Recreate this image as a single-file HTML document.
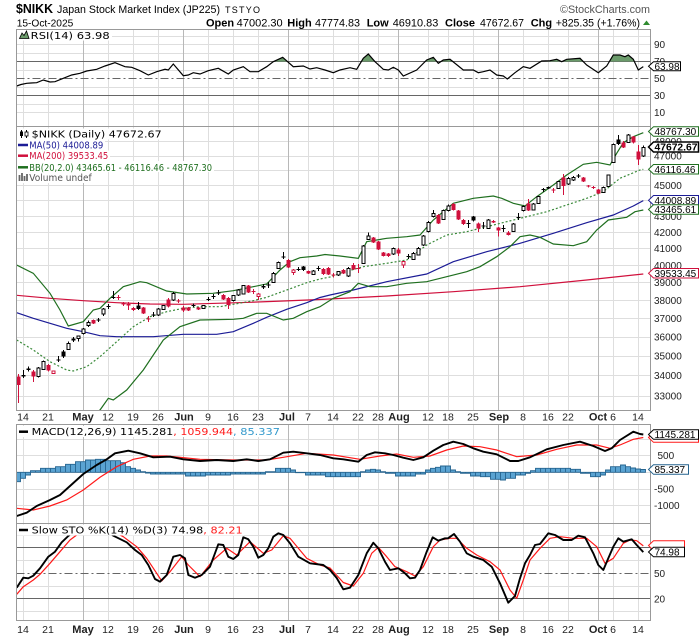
<!DOCTYPE html>
<html><head><meta charset="utf-8">
<style>html,body{margin:0;padding:0;background:#fff;width:700px;height:639px;overflow:hidden}svg{display:block}</style>
</head><body>
<svg width="700" height="639" viewBox="0 0 700 639" xmlns="http://www.w3.org/2000/svg" font-family="Liberation Sans, Arial, sans-serif">
<defs>
<clipPath id="cMain"><rect x="16.5" y="126.5" width="634" height="284"/></clipPath>
<clipPath id="cRsi"><rect x="16.5" y="29.5" width="634" height="97"/></clipPath>
<clipPath id="cRsiUp"><rect x="16.5" y="29.5" width="634" height="32"/></clipPath>
<clipPath id="cMacd"><rect x="16.5" y="424.5" width="634" height="99"/></clipPath>
<clipPath id="cSto"><rect x="16.5" y="523.5" width="634" height="97"/></clipPath>
</defs>
<rect width="700" height="639" fill="#fff"/>

<!-- Header -->
<text x="16" y="13" font-size="12.5" font-weight="bold" textLength="37" lengthAdjust="spacingAndGlyphs">$NIKK</text>
<text x="57" y="13" font-size="11" textLength="163" lengthAdjust="spacingAndGlyphs">Japan Stock Market Index (JP225)</text>
<text x="225" y="13" font-size="9" textLength="35" lengthAdjust="spacing">TSTYO</text>
<text x="560" y="13" font-size="11" fill="#555" textLength="90" lengthAdjust="spacingAndGlyphs">©StockCharts.com</text>
<text x="16.7" y="26.7" font-size="10.5" textLength="56.6" lengthAdjust="spacingAndGlyphs">15-Oct-2025</text>
<g font-size="11">
<text x="206" y="26.7" font-weight="bold">Open</text>
<text x="236.7" y="26.7" textLength="46" lengthAdjust="spacingAndGlyphs">47002.30</text>
<text x="287.3" y="26.7" font-weight="bold">High</text>
<text x="315" y="26.7" textLength="45" lengthAdjust="spacingAndGlyphs">47774.83</text>
<text x="366.7" y="26.7" font-weight="bold">Low</text>
<text x="392.7" y="26.7" textLength="45.6" lengthAdjust="spacingAndGlyphs">46910.83</text>
<text x="445" y="26.7" font-weight="bold">Close</text>
<text x="480" y="26.7" textLength="44" lengthAdjust="spacingAndGlyphs">47672.67</text>
<text x="530.7" y="26.7" font-weight="bold">Chg</text>
<text x="555.7" y="26.7" textLength="84.3" lengthAdjust="spacingAndGlyphs">+825.35 (+1.76%)</text>
</g>
<polygon points="643,25 646.5,20.5 650,25" fill="#2e8b2e"/>

<!-- Gridlines -->
<g fill="none" stroke-width="1">
<path stroke="#dedede" d="M23.5 29.5V410.5M48.5 29.5V410.5M108.5 29.5V410.5M133.5 29.5V410.5M158.5 29.5V410.5M208.5 29.5V410.5M233.5 29.5V410.5M258.5 29.5V410.5M308.5 29.5V410.5M333.5 29.5V410.5M358.5 29.5V410.5M378.5 29.5V410.5M428.5 29.5V410.5M448.5 29.5V410.5M473.5 29.5V410.5M523.5 29.5V410.5M548.5 29.5V410.5M568.5 29.5V410.5M613.5 29.5V410.5M638.5 29.5V410.5
M23.5 424.5V620.5M48.5 424.5V620.5M108.5 424.5V620.5M133.5 424.5V620.5M158.5 424.5V620.5M208.5 424.5V620.5M233.5 424.5V620.5M258.5 424.5V620.5M308.5 424.5V620.5M333.5 424.5V620.5M358.5 424.5V620.5M378.5 424.5V620.5M428.5 424.5V620.5M448.5 424.5V620.5M473.5 424.5V620.5M523.5 424.5V620.5M548.5 424.5V620.5M568.5 424.5V620.5M613.5 424.5V620.5M638.5 424.5V620.5
M16.5 36.5H650.5M16.5 44.5H650.5M16.5 53.5H650.5M16.5 70.5H650.5M16.5 87.5H650.5M16.5 104.5H650.5M16.5 112.5H650.5
M16.5 141.5H650.5M16.5 156.5H650.5M16.5 170.5H650.5M16.5 185.5H650.5M16.5 200.5H650.5M16.5 216.5H650.5M16.5 232.5H650.5M16.5 248.5H650.5M16.5 265.5H650.5M16.5 282.5H650.5M16.5 300.5H650.5M16.5 318.5H650.5M16.5 337.5H650.5M16.5 356.5H650.5M16.5 375.5H650.5M16.5 396.5H650.5
M16.5 439.5H650.5M16.5 455.5H650.5M16.5 472.5H650.5M16.5 489.5H650.5M16.5 505.5H650.5
M16.5 535.5H650.5M16.5 560.5H650.5M16.5 586.5H650.5M16.5 611.5H650.5"/>
<path stroke="#b8b8b8" d="M83.5 29.5V410.5M183.5 29.5V410.5M288.5 29.5V410.5M398.5 29.5V410.5M498.5 29.5V410.5M598.5 29.5V410.5M83.5 424.5V620.5M183.5 424.5V620.5M288.5 424.5V620.5M398.5 424.5V620.5M498.5 424.5V620.5M598.5 424.5V620.5"/>
<path stroke="#666" d="M16.5 61.5H650.5M16.5 95.5H650.5M16.5 547.5H650.5M16.5 598.5H650.5"/>
<path stroke="#666" stroke-dasharray="8,3,2,3" d="M16.5 78.5H650.5M16.5 573.5H650.5"/>
</g>

<!-- RSI -->
<g clip-path="url(#cRsi)">
<polygon clip-path="url(#cRsiUp)" fill="#6b9b6b" points="16.7,86 21,84.5 26.7,83.3 31,83 36.7,82.7 43.3,80 50,82 55,81.7 63.3,78.3 71.7,75 80,73.3 86.7,71 96.7,69.3 105,66 115,62.7 125,66.7 131.7,67.3 140,70.7 148.3,75 156.7,71.7 165,69.3 168.3,70 173.3,64 183.3,75.7 188.3,75 193.3,72.7 200,74 208.3,70.7 218.3,68.3 228.3,74 233.3,70 243.3,66.7 250,71.7 258.3,71.7 266.7,66.7 273.3,61.7 282.7,57.3 293.3,66.7 303.3,66 310,69 316.7,67.7 325,70 333.3,72.7 340,70 350,67.7 356.7,69.3 363.3,58.3 368.3,54 375,61.7 383.3,69.3 388.3,70 393.3,67.3 398.3,70 403.3,76 416.7,70 426.7,60 433.3,57.3 438.3,63.3 443.3,60 450,59.3 463.3,70 473.3,70 478.3,72.7 483.3,71.7 490,70 496.7,75 503.3,76 507.3,79 515,72.7 523.3,66.7 530,68.3 541.7,61 550,60.7 556.7,59.3 561.7,61.7 566.7,59.3 580,58.3 586.7,65 598.3,72.7 606.7,66 613.3,55 620,55 625,56.7 628.3,55 633.3,59.3 638.3,70 643.3,66.6 643.3,61.5 16.7,61.5"/>
<polyline fill="none" stroke="#000" stroke-width="1.2" points="16.7,86 21,84.5 26.7,83.3 31,83 36.7,82.7 43.3,80 50,82 55,81.7 63.3,78.3 71.7,75 80,73.3 86.7,71 96.7,69.3 105,66 115,62.7 125,66.7 131.7,67.3 140,70.7 148.3,75 156.7,71.7 165,69.3 168.3,70 173.3,64 183.3,75.7 188.3,75 193.3,72.7 200,74 208.3,70.7 218.3,68.3 228.3,74 233.3,70 243.3,66.7 250,71.7 258.3,71.7 266.7,66.7 273.3,61.7 282.7,57.3 293.3,66.7 303.3,66 310,69 316.7,67.7 325,70 333.3,72.7 340,70 350,67.7 356.7,69.3 363.3,58.3 368.3,54 375,61.7 383.3,69.3 388.3,70 393.3,67.3 398.3,70 403.3,76 416.7,70 426.7,60 433.3,57.3 438.3,63.3 443.3,60 450,59.3 463.3,70 473.3,70 478.3,72.7 483.3,71.7 490,70 496.7,75 503.3,76 507.3,79 515,72.7 523.3,66.7 530,68.3 541.7,61 550,60.7 556.7,59.3 561.7,61.7 566.7,59.3 580,58.3 586.7,65 598.3,72.7 606.7,66 613.3,55 620,55 625,56.7 628.3,55 633.3,59.3 638.3,70 643.3,66.6"/>
</g>

<!-- Main price lines -->
<g clip-path="url(#cMain)" fill="none" stroke-width="1.2">
<polyline stroke="#d0103c" points="16.7,295.3 50,298.3 83.3,300.7 116.7,302.7 150,304 183.3,304.3 216.7,303.3 250,302.3 283.3,301 320,299.5 386.7,296 453.3,291.7 520,286.7 586.7,280 643.3,274"/>
<polyline stroke="#1c1c96" points="16.7,312.7 33.3,318.3 50,323.3 66.7,328.3 83.3,331.7 100,335.7 116.7,336.7 153.3,336.7 183.3,334.3 216.7,334.3 233.3,331.7 253.3,323.3 266.7,317.3 286.7,309.3 306.7,302.7 320,297.5 330,295 353.3,290 386.7,281.7 426.7,274 453.3,261.7 486.7,251.7 520,243.3 553.3,233.3 586.7,222.7 613.3,215 633.3,206 643.3,200.6"/>
<polyline stroke="#1f6f1f" points="16.7,265 33.3,273.3 50,293.3 60,310 68.3,326 83.3,321.7 93.3,310 100,308.3 110,298.3 123.3,286.7 140,281.7 146.7,282.7 166.7,291 186.7,294 213,293.3 233.3,290.7 253.3,286.7 266.7,284 280,270 290,261.7 300,257.7 316.7,256 325,254.5 340,256 358.3,258.3 366.7,241.7 386.7,238.3 406.7,236.7 420,235 433.3,220 453.3,203.3 473.3,198.3 493.3,196 501.7,198.3 513.3,203.3 525,206 536.7,196.7 553.3,185 566.7,175 583.3,164.3 596.7,162.3 610,165 616.7,153.3 623.3,142.7 633.3,136.7 643.3,132.7"/>
<polyline stroke="#3a8a3a" stroke-dasharray="2,2" points="16.7,340 33.3,350 50,361.7 66.7,370 73.3,371 86.7,366.7 100,356.7 116.7,341.7 133.3,326.7 150,316.7 166.7,311.7 183.3,308.3 200,306.7 220,306.7 233.3,304.3 253.3,300.7 266.7,297.3 286.7,290 306.7,282.7 320,279 330,277 340,273.3 363.3,266.7 386.7,263.3 406.7,260 426.7,245 446.7,235 466.7,231.7 486.7,226.7 506.7,221.7 526.7,216.7 546.7,211.7 566.7,205 586.7,198.3 603.3,191.7 620,178.3 640,170 643.3,169.3"/>
<polyline stroke="#1f6f1f" points="16.7,425 50,440 68,428 90,416 100,410 108.3,398.3 113.3,400 126.7,390 143.3,370 163.3,340 180,326.7 200,320 233.3,319.3 243.3,318.3 256.7,313.3 266.7,313.3 283.3,320 293.3,318.3 306.7,311.7 320,306.7 333.3,298.3 350,291.7 358.3,283.3 370,286.7 386.7,286.7 406.7,283.3 426.7,281.7 446.7,276.7 466.7,271.7 480,266.7 496.7,256.7 510,246.7 520,236.7 530,235 540,237.3 553.3,244 573.3,245.7 586.7,241.7 596.7,230 608.3,220 626.7,217.3 635,211.7 643.3,210"/>
</g>

<!-- Candles -->
<g clip-path="url(#cMain)" shape-rendering="crispEdges">
<path fill="none" stroke="#d0103c" d="M18.5 374V403M33.5 370V382M48.5 364V371.5M93.5 319.5V324M118.5 295V300M123.5 302V306M128.5 302V310M133.5 307V311M143.5 307V314M148.5 316V322M168.5 298V307.5M178.5 299V303M183.5 306V312M188.5 307V311M198.5 307V310M223.5 294V300M228.5 297V309M248.5 285V293M253.5 289V294M288.5 259V268M308.5 270.5V274M323.5 268V275M328.5 267V275M333.5 273V277.5M343.5 269V274M353.5 263V270M358.5 264V273M373.5 237V243M378.5 241V250M383.5 252V256.5M388.5 253V257M398.5 248V256M438.5 214V224M453.5 203V210.5M458.5 210V220M463.5 219V225M478.5 222.5V232M493.5 220V223M498.5 227V236.5M508.5 231V235.5M528.5 199V211M553.5 188V193M563.5 174V195M583.5 177V182M588.5 185V187.5M593.5 186V189M598.5 189V194M623.5 141V148M633.5 136V143.5M638.5 145V165M53.5 370.5V374M258.5 293V300M293.5 269V275M403.5 261V268"/>
<path fill="#d0103c" d="M16.5 376.7h4v8.3h-4zM31.5 371.7h4v5h-4zM46.5 365h4v5.7h-4zM91.5 320h4v3.3h-4zM116.5 297h4v1.2h-4zM121.5 303.5h4v1.2h-4zM126.5 304h4v1.5h-4zM131.5 308h4v2h-4zM141.5 307.7h4v5.6h-4zM146.5 318.5h4v1.2h-4zM166.5 299.3h4v7.4h-4zM176.5 300.5h4v1.2h-4zM181.5 307.3h4v3.4h-4zM186.5 307.3h4v3.4h-4zM196.5 307.7h4v1.6h-4zM221.5 295h4v4.3h-4zM226.5 298h4v7h-4zM246.5 285.7h4v6.6h-4zM251.5 291h4v1.2h-4zM286.5 260h4v7.3h-4zM306.5 271h4v2.3h-4zM321.5 269h4v5h-4zM326.5 268h4v6.5h-4zM331.5 274.5h4v1.2h-4zM341.5 270h4v3.3h-4zM351.5 265h4v4.3h-4zM356.5 267.8h4v1.2h-4zM371.5 237.3h4v5.4h-4zM376.5 241.7h4v7.6h-4zM381.5 252.7h4v3.3h-4zM386.5 253.3h4v2.7h-4zM396.5 249.3h4v4h-4zM436.5 215h4v8.3h-4zM451.5 204h4v6h-4zM456.5 210.7h4v8.6h-4zM461.5 220h4v4h-4zM476.5 223.3h4v5h-4zM491.5 221.2h4v1.2h-4zM496.5 227.3h4v3.4h-4zM506.5 232.3h4v2.7h-4zM526.5 203.3h4v7.4h-4zM551.5 189.5h4v1.2h-4zM561.5 177.3h4v8.7h-4zM581.5 177.3h4v4.4h-4zM586.5 185.5h4v1.2h-4zM591.5 187h4v1.2h-4zM596.5 189.3h4v4h-4zM621.5 142.7h4v4.6h-4zM631.5 136.7h4v6h-4zM636.5 151.7h4v7.6h-4z"/>
<path fill="#fff" stroke="#d0103c" d="M52 371h3v2.3h-3zM257 294h3v2.7h-3zM292 270h3v2.7h-3zM402 261.7h3v3.3h-3z"/>
<path fill="none" stroke="#000" d="M23.5 370V378M28.5 366.7V371.7M58.5 356V362M63.5 350V358M73.5 337V342M98.5 318V322M108.5 304V309M113.5 291V299M138.5 302V310M153.5 312V317M193.5 303.5V307M208.5 297V301M213.5 294V299M218.5 290V295M263.5 284V289M268.5 282V288M283.5 252V259M298.5 267V271M303.5 266V271M318.5 266V271M408.5 254V259M468.5 220V228M473.5 216V221.5M483.5 222V229M503.5 225V232M518.5 213V220M543.5 188V192M548.5 186.5V189M578.5 174V178M618.5 135V145
M38.5 367V377.5M43.5 360.5V370M68.5 341.7V350M78.5 335.5V341.7M83.5 328V334.5M88.5 320.5V327M103.5 308V316M158.5 308V316M163.5 305V310M173.5 292V301M203.5 305V309M233.5 295V301.5M238.5 289V296M243.5 285V294.5M273.5 272V283M278.5 261.5V269M313.5 270V275M338.5 271V276M348.5 267V277M363.5 245V264M368.5 232.7V240M393.5 247.5V255M413.5 252V260M418.5 247V255.5M423.5 235V246M428.5 221V232.5M433.5 210V217.5M443.5 209.5V220M448.5 204.5V211.5M488.5 219V229M513.5 223V232M523.5 205.5V211.5M533.5 203V210.5M538.5 196V204M558.5 181V189M568.5 177V185M573.5 176V181M603.5 186.5V193M608.5 174.5V187M613.5 143.5V163M628.5 134V143M643.5 145.7V157"/>
<path fill="#000" d="M21.5 375h4v1.5h-4zM26.5 368.5h4v1.5h-4zM56.5 359.5h4v1.2h-4zM61.5 351.7h4v5h-4zM71.5 338.3h4v2.2h-4zM96.5 319.5h4v1.2h-4zM106.5 306h4v1.2h-4zM111.5 297h4v1.2h-4zM136.5 305.7h4v3.3h-4zM151.5 314.5h4v1.2h-4zM191.5 305h4v1.2h-4zM206.5 299h4v1.2h-4zM211.5 296h4v1.2h-4zM216.5 292.5h4v1.2h-4zM261.5 286.2h4v1.2h-4zM266.5 284.5h4v1.2h-4zM281.5 256.5h4v1.2h-4zM296.5 269h4v1.2h-4zM301.5 266.7h4v3.3h-4zM316.5 268h4v1.2h-4zM406.5 256h4v1.2h-4zM466.5 222.8h4v1.2h-4zM471.5 216.7h4v4h-4zM481.5 225.5h4v1.2h-4zM501.5 227.8h4v1.2h-4zM516.5 216.8h4v1.2h-4zM541.5 189h4v1.2h-4zM546.5 187.2h4v1.2h-4zM576.5 175.5h4v1.2h-4zM616.5 139.3h4v4.7h-4z"/>
<path fill="#fff" stroke="#000" d="M37 368h3v8.7h-3zM42 361.7h3v7.6h-3zM67 343.3h3v6h-3zM77 336h3v2.3h-3zM82 329h3v4.3h-3zM87 322.3h3v3.4h-3zM102 309h3v5h-3zM157 309h3v6h-3zM162 305.7h3v3.6h-3zM172 293.3h3v6.7h-3zM202 305.7h3v2.6h-3zM232 295.7h3v5h-3zM237 290h3v5h-3zM242 285.7h3v8.3h-3zM272 273.3h3v9h-3zM277 262.7h3v5.6h-3zM312 271h3v3.3h-3zM337 271.7h3v3.3h-3zM347 268.3h3v7.7h-3zM362 246h3v17.3h-3zM367 236h3v3.3h-3zM392 248.3h3v5.7h-3zM412 253.3h3v6h-3zM417 248.3h3v6.7h-3zM422 236h3v9h-3zM427 222.7h3v9h-3zM432 213.3h3v3.4h-3zM442 210.7h3v8.6h-3zM447 206h3v4.7h-3zM487 220h3v8.3h-3zM512 224h3v7.7h-3zM522 206.7h3v4h-3zM532 204h3v6h-3zM537 196.7h3v6.6h-3zM557 181.7h3v6.6h-3zM567 178.3h3v5.7h-3zM572 177.3h3v2.7h-3zM602 187.3h3v5h-3zM607 175h3v11.7h-3zM612 144.3h3v18.4h-3zM627 135h3v7.7h-3zM642 147.3h3v8.7h-3z"/>
</g>

<!-- MACD -->
<g clip-path="url(#cMacd)">
<path fill="#5aa3d2" stroke="#26648f" stroke-width="0.9" d="M15.5 472.3V481.7h5V472.3zM20.5 472.3V478.3h5V472.3zM25.5 472.3V475h5V472.3zM30.5 472.3V470.7h5V472.3zM35.5 472.3V470.7h5V472.3zM40.5 472.3V468.3h5V472.3zM45.5 472.3V468.3h5V472.3zM50.5 472.3V468.3h5V472.3zM55.5 472.3V466.7h5V472.3zM60.5 472.3V466.7h5V472.3zM65.5 472.3V464.3h5V472.3zM70.5 472.3V464.3h5V472.3zM75.5 472.3V461.7h5V472.3zM80.5 472.3V461.7h5V472.3zM85.5 472.3V460h5V472.3zM90.5 472.3V460h5V472.3zM95.5 472.3V459.3h5V472.3zM100.5 472.3V459.3h5V472.3zM105.5 472.3V460.7h5V472.3zM110.5 472.3V460.7h5V472.3zM115.5 472.3V460.7h5V472.3zM120.5 472.3V462.7h5V472.3zM125.5 472.3V466.7h5V472.3zM130.5 472.3V468.3h5V472.3zM135.5 472.3V470h5V472.3zM140.5 472.3V471.7h5V472.3zM145.5 472.3V473h5V472.3zM150.5 472.3V474h5V472.3zM155.5 472.3V474h5V472.3zM160.5 472.3V474h5V472.3zM165.5 472.3V474h5V472.3zM170.5 472.3V474h5V472.3zM175.5 472.3V474h5V472.3zM180.5 472.3V474h5V472.3zM185.5 472.3V476h5V472.3zM190.5 472.3V476h5V472.3zM195.5 472.3V476h5V472.3zM200.5 472.3V476h5V472.3zM205.5 472.3V475h5V472.3zM210.5 472.3V475h5V472.3zM215.5 472.3V475h5V472.3zM220.5 472.3V475h5V472.3zM225.5 472.3V475h5V472.3zM230.5 472.3V474h5V472.3zM235.5 472.3V474h5V472.3zM240.5 472.3V474h5V472.3zM245.5 472.3V474h5V472.3zM250.5 472.3V474h5V472.3zM255.5 472.3V474h5V472.3zM260.5 472.3V474h5V472.3zM265.5 472.3V471.7h5V472.3zM270.5 472.3V471.7h5V472.3zM275.5 472.3V468.3h5V472.3zM280.5 472.3V468.3h5V472.3zM285.5 472.3V468.3h5V472.3zM290.5 472.3V470h5V472.3zM295.5 472.3V472.7h5V472.3zM300.5 472.3V472.7h5V472.3zM305.5 472.3V475h5V472.3zM310.5 472.3V475h5V472.3zM315.5 472.3V475h5V472.3zM320.5 472.3V475h5V472.3zM325.5 472.3V476.7h5V472.3zM330.5 472.3V476.7h5V472.3zM335.5 472.3V476.7h5V472.3zM340.5 472.3V476.7h5V472.3zM345.5 472.3V476.7h5V472.3zM350.5 472.3V476.7h5V472.3zM355.5 472.3V476.7h5V472.3zM360.5 472.3V471.7h5V472.3zM365.5 472.3V470h5V472.3zM370.5 472.3V469.3h5V472.3zM375.5 472.3V470h5V472.3zM380.5 472.3V471.7h5V472.3zM385.5 472.3V473.3h5V472.3zM390.5 472.3V473.3h5V472.3zM395.5 472.3V476h5V472.3zM400.5 472.3V476h5V472.3zM405.5 472.3V476h5V472.3zM410.5 472.3V476h5V472.3zM415.5 472.3V474h5V472.3zM420.5 472.3V474h5V472.3zM425.5 472.3V470h5V472.3zM430.5 472.3V468.3h5V472.3zM435.5 472.3V467.3h5V472.3zM440.5 472.3V466h5V472.3zM445.5 472.3V466h5V472.3zM450.5 472.3V470h5V472.3zM455.5 472.3V471.7h5V472.3zM460.5 472.3V473.3h5V472.3zM465.5 472.3V473.3h5V472.3zM470.5 472.3V476h5V472.3zM475.5 472.3V476h5V472.3zM480.5 472.3V476.7h5V472.3zM485.5 472.3V476.7h5V472.3zM490.5 472.3V479.3h5V472.3zM495.5 472.3V479.3h5V472.3zM500.5 472.3V480h5V472.3zM505.5 472.3V478.3h5V472.3zM510.5 472.3V478.3h5V472.3zM515.5 472.3V475h5V472.3zM520.5 472.3V475h5V472.3zM525.5 472.3V473.3h5V472.3zM530.5 472.3V470.7h5V472.3zM535.5 472.3V468.3h5V472.3zM540.5 472.3V468.3h5V472.3zM545.5 472.3V468.3h5V472.3zM550.5 472.3V468.3h5V472.3zM555.5 472.3V468.3h5V472.3zM560.5 472.3V468.3h5V472.3zM565.5 472.3V468.3h5V472.3zM570.5 472.3V469.3h5V472.3zM575.5 472.3V469.3h5V472.3zM580.5 472.3V473.3h5V472.3zM585.5 472.3V473.3h5V472.3zM590.5 472.3V476.7h5V472.3zM595.5 472.3V476.7h5V472.3zM600.5 472.3V475h5V472.3zM605.5 472.3V470h5V472.3zM610.5 472.3V466.7h5V472.3zM615.5 472.3V466.7h5V472.3zM620.5 472.3V465h5V472.3zM625.5 472.3V466.7h5V472.3zM630.5 472.3V468h5V472.3zM635.5 472.3V469h5V472.3zM640.5 472.3V469.5h5V472.3z"/>
<polyline fill="none" stroke="#ff1a1a" stroke-width="1.2" points="16.7,508.3 33.3,510 50,506 66.7,500 83.3,490 100,477.3 116.7,466.7 133.3,459.3 150,456 166.7,456 200,459.3 233.3,460 266.7,460 283.3,457.3 306.7,453.3 333.3,455 360,459.3 380,456 396.7,454 413.3,457.3 430,456 446.7,450 463.3,446 480,446.7 496.7,450 516.7,456.7 536.7,455 556.7,449.3 576.7,445 596.7,445 610,448.3 620,445 633.3,439.3 643.3,437.5"/>
<polyline fill="none" stroke="#000" stroke-width="1.9" stroke-linejoin="round" points="16.7,516 26.7,512.7 36.7,506 50,500 60,495 70,486 83.3,474 96.7,465 106.7,459.3 115,453.3 128.3,450.7 140,453.3 153.3,457.3 170,456.7 183.3,459.3 200,461 216.7,460 233.3,461 246.7,459.3 258.3,461 270,459.3 283.3,452.7 293.3,451.7 306.7,453.3 320,455 333.3,458.3 343.3,459.3 358.3,461.7 366.7,455 375,452.3 385,453.3 393.3,455 403.3,457.7 413.3,460 423.3,457.3 433.3,450.7 443.3,445 453.3,441.7 463.3,444 473.3,448.3 483.3,451.7 496.7,454.3 510,461 518.3,461 530,457.3 546.7,449.3 563.3,445 580,441.7 593.3,446 605,451 611.7,448.3 620,440 633.3,431.7 640,434 643.3,434.5"/>
</g>

<!-- STO -->
<g clip-path="url(#cSto)" fill="none" stroke-linejoin="round">
<polyline stroke="#ff1a1a" stroke-width="1.2" points="16.7,594.3 23.3,586.7 33.3,580 40,574.3 50,563.3 60,551.7 70,540 76.7,535 85,532 95,531 110,530 123.3,536.7 136.7,546.7 146.7,558.3 156.7,573.3 161.7,581 170,571.7 181.7,556.7 188.3,565 200,576.7 213.3,560 226.7,548.3 236.7,555 250,541.7 263.3,553.3 271.7,550 283.3,535.7 290,538.3 306.7,558.3 320,565 330,568 343.3,582.5 353.3,586 363.3,573.3 371.7,553.3 378.3,547.3 386.7,556.7 395,566.7 406.7,571.7 415,576 423.3,566.7 433.3,546.7 440,540 450,538.3 456.7,538.3 466.7,548.3 476.7,555 490,561.7 500,570 510,590 516.7,598.3 523.3,580 530,560 540,548.3 550,538.3 560,536.7 573.3,538.3 586.7,538.3 596.7,546.7 605,563.3 613.3,558.3 623.3,543.3 630,540 636.7,540.7 643.3,545.9"/>
<polyline stroke="#000" stroke-width="1.9" points="16.7,587.7 23.3,577.7 28.3,578.3 33.3,575.7 40,568.3 48.3,556.7 55,551.7 61.7,542.3 68.3,536 73,532 78,531.5 83,532 88,531.5 93,531.5 98,532 103,531.5 108,532 113.3,535.7 126.7,542.3 135,550 141.7,555 148.3,565 155,579 160,581.7 166.7,575 173.3,556.7 180,555 185,558.3 188.3,575 195,577.7 201.7,575 210,566.7 218.3,544.3 223.3,545 228.3,556.7 233.3,559 238.3,555 243.3,537.3 248.3,539.3 253.3,546.7 258.3,557.7 263.3,555 268.3,548.3 273.3,536.7 278.3,533.3 283.3,535 290,543.3 298.3,556.7 310,563.3 323.3,565 330,570 336.7,578 343.3,589.3 350,587.7 358.3,575 366.7,553.3 373.3,542.7 378.3,548.3 385,561.7 390,570 398.3,568.3 405,573.3 410,578.3 415,577.7 420,570 426.7,551.7 432.7,537.3 438.3,540.7 445,538.3 448,538.3 454,534 460,541.7 466.7,553.3 473.3,556.7 483.3,560 491.7,566.7 500,583.3 508.3,602.7 515,596 520,578.3 525,563.3 530,555 535,545 540,544 548.3,533.3 555,535 563.3,540 571.7,540 578.3,535.7 585,537.3 593.3,553.3 598.3,565 603.3,570 608.3,558.3 613.3,546.7 618.3,538.3 623.3,541.7 631.7,539.3 636.7,545 643.3,552.1"/>
</g>

<!-- Panel borders -->
<g fill="none" stroke="#999" stroke-width="1">
<rect x="16.5" y="29.5" width="634" height="97"/>
<rect x="16.5" y="126.5" width="634" height="284"/>
<rect x="16.5" y="424.5" width="634" height="99"/>
<rect x="16.5" y="523.5" width="634" height="97"/>
</g>

<!-- Legends -->
<g font-family="DejaVu Sans, Verdana, sans-serif" font-size="10">
<rect x="17" y="30" width="95" height="10.5" fill="#fff"/>
<polygon points="19.5,38.5 22,33 24,35.5 26.5,31 29,38.5" fill="#6b9b6b" stroke="#000" stroke-width="0.8"/>
<text x="30.7" y="38.8" textLength="79" lengthAdjust="spacingAndGlyphs">RSI(14) 63.98</text>

<rect x="17" y="128.5" width="146" height="11" fill="#fff"/>
<rect x="17" y="139.5" width="88" height="11" fill="#fff"/>
<rect x="17" y="150.5" width="93" height="10.5" fill="#fff"/>
<rect x="17" y="161" width="197" height="11" fill="#fff"/>
<rect x="17" y="172" width="76" height="11" fill="#fff"/>
<path d="M21.5 130V138M26.5 130V138" stroke="#000" stroke-width="1"/>
<rect x="20" y="131.5" width="3" height="4.5" fill="#000"/>
<rect x="25" y="132" width="3" height="4" fill="#fff" stroke="#000" stroke-width="0.8"/>
<text x="31.7" y="137.5" textLength="130" lengthAdjust="spacingAndGlyphs">$NIKK (Daily) 47672.67</text>
<path d="M18 145H28" stroke="#1c1c96" stroke-width="2.5"/>
<text x="29.3" y="148.5" fill="#1c1c96" textLength="74" lengthAdjust="spacingAndGlyphs">MA(50) 44008.89</text>
<path d="M18 155.7H28" stroke="#d0103c" stroke-width="2.5"/>
<text x="29.3" y="159.2" fill="#d0103c" textLength="79" lengthAdjust="spacingAndGlyphs">MA(200) 39533.45</text>
<path d="M18 167.3H28" stroke="#1f6f1f" stroke-width="2.5"/>
<text x="29.3" y="170.8" fill="#1f6f1f" textLength="182.7" lengthAdjust="spacingAndGlyphs">BB(20,2.0) 43465.61 - 46116.46 - 48767.30</text>
<path d="M19.5 181V175M22 181V173M24.5 181V176M27 181V174" stroke="#666" stroke-width="1.8"/>
<text x="29.3" y="181.2" fill="#555" textLength="62.4" lengthAdjust="spacingAndGlyphs">Volume undef</text>

<rect x="17" y="426" width="265" height="11" fill="#fff"/>
<path d="M19 431.7H28" stroke="#000" stroke-width="2.5"/>
<text x="31.7" y="435.2" textLength="141.6" lengthAdjust="spacingAndGlyphs">MACD(12,26,9) 1145.281</text>
<text x="173.3" y="435.2" fill="#ff1a1a" textLength="59.7" lengthAdjust="spacingAndGlyphs">, 1059.944</text>
<text x="233" y="435.2" fill="#3399cc" textLength="47" lengthAdjust="spacingAndGlyphs">, 85.337</text>

<rect x="17" y="524.5" width="227" height="11" fill="#fff"/>
<path d="M19 530H28" stroke="#000" stroke-width="2.5"/>
<text x="31.7" y="533.5" textLength="171.6" lengthAdjust="spacingAndGlyphs">Slow STO %K(14) %D(3) 74.98</text>
<text x="203.3" y="533.5" fill="#ff1a1a" textLength="39.4" lengthAdjust="spacingAndGlyphs">, 82.21</text>
</g>

<!-- Right axis plain labels -->
<g font-size="10" fill="#222">
<text x="654" y="48">90</text>
<text x="654" y="65">70</text>
<text x="654" y="82">50</text>
<text x="654" y="99">30</text>
<text x="654" y="116">10</text>
<text x="654" y="145.2">48000</text>
<text x="654" y="159.5">47000</text>
<text x="654" y="189">45000</text>
<text x="654" y="220">43000</text>
<text x="654" y="235.8">42000</text>
<text x="654" y="252.2">41000</text>
<text x="654" y="269">40000</text>
<text x="654" y="286.1">39000</text>
<text x="654" y="303.8">38000</text>
<text x="654" y="321.9">37000</text>
<text x="654" y="340.5">36000</text>
<text x="654" y="359.6">35000</text>
<text x="654" y="379.2">34000</text>
<text x="654" y="399.5">33000</text>
<text x="657.5" y="459.1">500</text>
<text x="654" y="492.5">-500</text>
<text x="654" y="509.1">-1000</text>
<text x="654" y="576.8">50</text>
<text x="654" y="602.3">20</text>
</g>

<!-- Right axis value boxes -->
<g font-size="10" fill="#fff">
<polygon points="648.5,66.3 653.5,61.8 680.5,61.8 680.5,70.8 653.5,70.8" stroke="#000"/>
<polygon points="648.5,131.5 653.5,126.8 698.5,126.8 698.5,136.3 653.5,136.3" stroke="#1f6f1f"/>
<polygon points="648.5,169.3 653.5,164.5 698.5,164.5 698.5,174 653.5,174" stroke="#1f6f1f"/>
<polygon points="648.5,200.3 653.5,195.5 698.5,195.5 698.5,205 653.5,205" stroke="#1c1c96"/>
<polygon points="648.5,209.5 653.5,204.8 698.5,204.8 698.5,214.3 653.5,214.3" stroke="#1f6f1f"/>
<polygon points="648.5,273.3 653.5,268.5 698.5,268.5 698.5,278 653.5,278" stroke="#d0103c"/>
<polygon points="648.5,147 653.5,142 698.5,142 698.5,152 653.5,152" stroke="#000" stroke-width="1.5"/>
<polygon points="648.5,437.5 653.5,432.8 698.5,432.8 698.5,442.3 653.5,442.3" stroke="#ff1a1a"/>
<polygon points="648.5,434.5 653.5,429.8 698.5,429.8 698.5,439.3 653.5,439.3" stroke="#000"/>
<polygon points="648.5,469.5 653.5,464.8 688.5,464.8 688.5,474.3 653.5,474.3" stroke="#26648f"/>
<polygon points="648.5,545.5 653.5,540.8 684.5,540.8 684.5,550.3 653.5,550.3" stroke="#ff1a1a"/>
<polygon points="648.5,552 653.5,547.3 684.5,547.3 684.5,556.8 653.5,556.8" stroke="#000"/>
</g>
<g font-size="10" fill="#000">
<text x="654.5" y="69.8">63.98</text>
<text x="654.5" y="135">48767.30</text>
<text x="654.5" y="172.8">46116.46</text>
<text x="654.5" y="203.8">44008.89</text>
<text x="654.5" y="213">43465.61</text>
<text x="654.5" y="276.8">39533.45</text>
<text x="654.5" y="150.6" font-weight="bold" textLength="43" lengthAdjust="spacingAndGlyphs">47672.67</text>
<text x="654.5" y="438">1145.281</text>
<text x="654.5" y="473">85.337</text>
<text x="654.5" y="555.5">74.98</text>
</g>

<!-- X axis labels -->
<g font-size="10.5" fill="#222" text-anchor="middle">
<text x="23" y="420.5">14</text><text x="48" y="420.5">21</text><text x="83" y="420.5" font-weight="bold" font-size="11">May</text><text x="108" y="420.5">12</text><text x="133" y="420.5">19</text><text x="158" y="420.5">26</text><text x="184" y="420.5" font-weight="bold" font-size="11">Jun</text><text x="208" y="420.5">9</text><text x="233" y="420.5">16</text><text x="258" y="420.5">23</text><text x="287" y="420.5" font-weight="bold" font-size="11">Jul</text><text x="308" y="420.5">7</text><text x="333" y="420.5">14</text><text x="358" y="420.5">22</text><text x="378" y="420.5">28</text><text x="399" y="420.5" font-weight="bold" font-size="11">Aug</text><text x="428" y="420.5">12</text><text x="448" y="420.5">18</text><text x="473" y="420.5">25</text><text x="499" y="420.5" font-weight="bold" font-size="11">Sep</text><text x="523" y="420.5">8</text><text x="548" y="420.5">16</text><text x="568" y="420.5">22</text><text x="598" y="420.5" font-weight="bold" font-size="11">Oct</text><text x="613" y="420.5">6</text><text x="638" y="420.5">14</text>
<text x="23" y="633">14</text><text x="48" y="633">21</text><text x="83" y="633" font-weight="bold" font-size="11">May</text><text x="108" y="633">12</text><text x="133" y="633">19</text><text x="158" y="633">26</text><text x="184" y="633" font-weight="bold" font-size="11">Jun</text><text x="208" y="633">9</text><text x="233" y="633">16</text><text x="258" y="633">23</text><text x="287" y="633" font-weight="bold" font-size="11">Jul</text><text x="308" y="633">7</text><text x="333" y="633">14</text><text x="358" y="633">22</text><text x="378" y="633">28</text><text x="399" y="633" font-weight="bold" font-size="11">Aug</text><text x="428" y="633">12</text><text x="448" y="633">18</text><text x="473" y="633">25</text><text x="499" y="633" font-weight="bold" font-size="11">Sep</text><text x="523" y="633">8</text><text x="548" y="633">16</text><text x="568" y="633">22</text><text x="598" y="633" font-weight="bold" font-size="11">Oct</text><text x="613" y="633">6</text><text x="638" y="633">14</text>
</g>
</svg>
</body></html>
